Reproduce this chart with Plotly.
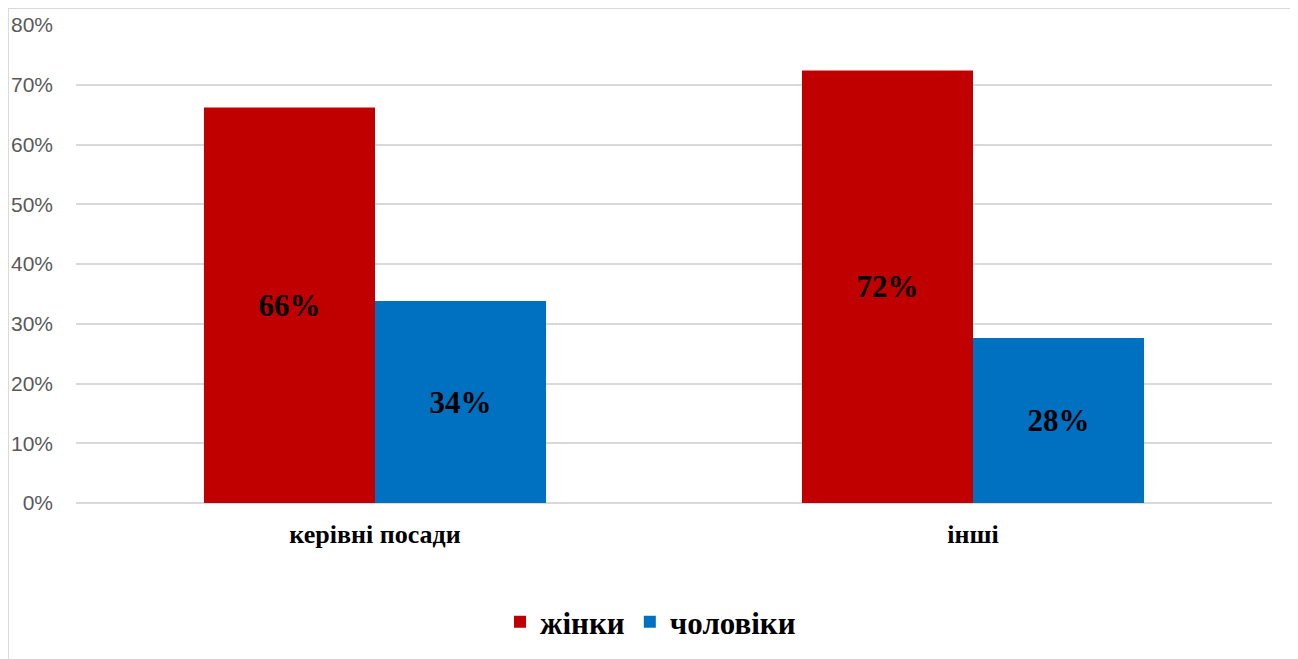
import plotly.graph_objects as go

categories = ["керівні посади", "інші"]
women = [66.2, 72.4]
men = [33.8, 27.6]
series_names = ["жінки", "чоловіки"]
y_ticks = [0, 10, 20, 30, 40, 50, 60, 70, 80]

RED = "#c00000"
BLUE = "#0070c0"
SERIF = "Liberation Serif, Times New Roman, serif"

fig = go.Figure()

for name, vals, color in [(series_names[0], women, RED), (series_names[1], men, BLUE)]:
    fig.add_trace(go.Bar(
        x=categories,
        y=vals,
        name=name,
        marker=dict(color=color, line=dict(width=0)),
        text=[f"{round(v)}%" for v in vals],
        textposition="inside",
        insidetextanchor="middle",
        textangle=0,
        textfont=dict(family=SERIF, size=31, color="black", weight="bold"),
        hoverinfo="skip",
    ))

# the page body puts the figure 8px in from the corner, margins compensate
fig.update_layout(
    width=1298, height=659,
    barmode="group",
    bargap=0.428,
    bargroupgap=0,
    plot_bgcolor="white",
    paper_bgcolor="white",
    margin=dict(l=68, r=34, t=17, b=164),
    showlegend=True,
    legend=dict(
        orientation="h",
        xref="container", yref="container",
        x=0.495, xanchor="center",
        y=0.068, yanchor="middle",
        font=dict(family=SERIF, size=31, color="black", weight="bold"),
        itemwidth=30,
        traceorder="normal",
    ),
    xaxis=dict(
        automargin=False,
        showgrid=False,
        showline=False,
        ticks="",
        tickfont=dict(family=SERIF, size=26, color="black", weight="bold"),
        ticklabelstandoff=13,
    ),
    yaxis=dict(
        automargin=False,
        range=[0, 80],
        tickvals=y_ticks,
        ticktext=[f"{t}%" for t in y_ticks],
        showgrid=True,
        gridcolor="#d9d9d9",
        gridwidth=2,
        zeroline=True,
        zerolinecolor="#d9d9d9",
        zerolinewidth=2,
        showline=False,
        ticks="",
        tickfont=dict(family="Liberation Sans, Arial, sans-serif", size=21, color="#595959"),
        ticklabelstandoff=22,
    ),
    shapes=[dict(
        type="rect", xref="paper", yref="paper",
        x0=-0.0569, x1=1.0184, y0=-0.5, y1=1.0356,
        line=dict(color="#d9d9d9", width=2),
        fillcolor="rgba(0,0,0,0)",
        layer="below",
    )],
)

fig.write_html("out.html")
